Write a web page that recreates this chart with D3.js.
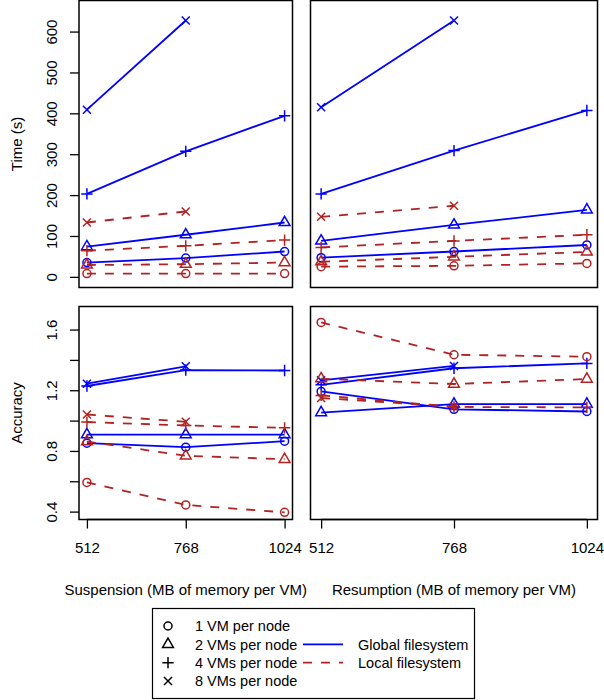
<!DOCTYPE html>
<html>
<head>
<meta charset="utf-8">
<script src="https://cdn.jsdelivr.net/npm/d3@7/dist/d3.min.js"></script>
<style>
  html, body { margin: 0; padding: 0; background: #fff; }
  svg { display: block; font-family: "Liberation Sans", Arial, Helvetica, sans-serif; }
</style>
</head>
<body>
<svg id="chart" width="604" height="700"></svg>
<script>
// Memory sizes on the x axis
const memSizes = [512, 768, 1024];
// VMs per node (one series per count, each with its own point symbol)
const vmCounts = [1, 2, 4, 8];
const vmLabels = ["1 VM per node", "2 VMs per node", "4 VMs per node", "8 VMs per node"];
const vmSymbols = ["circle", "triangle", "plus", "cross"];

// Suspension time (s): rows = 1, 2, 4, 8 VMs per node; columns = 512, 768, 1024 MB
const suspTimeGlobal = [[35, 46, 62], [74, 103, 133], [203, 307, 394], [409, 627, null]];
const suspTimeLocal  = [[8, 8, 8], [29, 31, 35], [64, 76, 90], [133, 160, null]];
// Resumption time (s)
const resTimeGlobal  = [[47, 62, 78], [88, 127, 164], [203, 309, 407], [415, 627, null]];
const resTimeLocal   = [[25, 27, 33], [37, 49, 61], [72, 88, 103], [147, 174, null]];
// Suspension accuracy
const suspAccGlobal  = [[0.851, 0.825, 0.864], [0.908, 0.908, 0.908], [1.228, 1.333, 1.330], [1.243, 1.358, null]];
const suspAccLocal   = [[0.592, 0.444, 0.395], [0.862, 0.768, 0.745], [0.990, 0.968, 0.952], [1.040, 0.992, null]];
// Resumption accuracy
const resAccGlobal   = [[1.192, 1.074, 1.060], [1.053, 1.109, 1.109], [1.236, 1.345, 1.377], [1.265, 1.360, null]];
const resAccLocal    = [[1.647, 1.434, 1.421], [1.276, 1.241, 1.274], [1.166, 1.090, 1.087], [1.149, 1.092, null]];

// Axis ticks and labels
const timeTicks = [0, 100, 200, 300, 400, 500, 600];
const accTicks = [0.4, 0.6, 0.8, 1.0, 1.2, 1.4, 1.6];
const accTickLabels = ["0.4", "", "0.8", "", "1.2", "", "1.6"];
const timeLimits = [0, 650];
const accLimits = [0.4, 1.7];
const xTitles = ["Suspension (MB of memory per VM)", "Resumption (MB of memory per VM)"];
const yTitles = ["Time (s)", "Accuracy"];
const fsLabels = ["Global filesystem", "Local filesystem"];

const BLUE = "#0000ff";
const RED = "#b22222";
const DASH = "9,9";
const LW = 1.8;
const R = 4; // base symbol radius
const FS = 15; // axis text size
const LEG_FS = 14.5; // legend text size

const svg = d3.select("#chart");

// Panel frames
const colX = [[79, 292.5], [310.5, 597.5]];
const rowY = [[0.5, 287.5], [306.5, 519.5]];

// extend a range by 4% on each side
function padded([a, b]) { const d = (b - a) * 0.04; return [a - d, b + d]; }

const xDomain = padded([d3.min(memSizes), d3.max(memSizes)]);
const yDomains = [padded(timeLimits), padded(accLimits)];

const panels = [
  { row: 0, col: 0, global: suspTimeGlobal, local: suspTimeLocal },
  { row: 0, col: 1, global: resTimeGlobal,  local: resTimeLocal },
  { row: 1, col: 0, global: suspAccGlobal,  local: suspAccLocal },
  { row: 1, col: 1, global: resAccGlobal,   local: resAccLocal }
];

function drawSymbol(g, type, x, y, color) {
  const s = g.append("g").attr("transform", `translate(${x},${y})`)
    .attr("fill", "none").attr("stroke", color).attr("stroke-width", 1.5);
  if (type === "circle") {
    s.append("circle").attr("r", R);
  } else if (type === "triangle") {
    const t = 1.5551 * R, h = 1.3468 * R, b = 0.7776 * R;
    s.append("path").attr("d", `M0,${-t}L${h},${b}L${-h},${b}Z`);
  } else if (type === "plus") {
    const p = 1.4142 * R;
    s.append("path").attr("d", `M${-p},0H${p}M0,${-p}V${p}`);
  } else {
    s.append("path").attr("d", `M${-R},${-R}L${R},${R}M${-R},${R}L${R},${-R}`);
  }
}

panels.forEach(p => {
  const [x0, x1] = colX[p.col];
  const [y0, y1] = rowY[p.row];
  const x = d3.scaleLinear().domain(xDomain).range([x0, x1]);
  const y = d3.scaleLinear().domain(yDomains[p.row]).range([y1, y0]);
  const g = svg.append("g");

  const line = d3.line()
    .defined(d => d.v != null)
    .x(d => x(d.m)).y(d => y(d.v));

  [[p.global, BLUE, null], [p.local, RED, DASH]].forEach(([series, color, dash]) => {
    series.forEach((vals, i) => {
      const pts = vals.map((v, j) => ({ m: memSizes[j], v }));
      g.append("path").datum(pts)
        .attr("d", line)
        .attr("fill", "none")
        .attr("stroke", color)
        .attr("stroke-width", LW)
        .attr("stroke-dasharray", dash);
      pts.filter(d => d.v != null).forEach(d => drawSymbol(g, vmSymbols[i], x(d.m), y(d.v), color));
    });
  });

  // frame
  svg.append("rect").attr("x", x0).attr("y", y0)
    .attr("width", x1 - x0).attr("height", y1 - y0)
    .attr("fill", "none").attr("stroke", "#000").attr("stroke-width", 1.5);

  // y axis on the left column
  if (p.col === 0) {
    const ticks = p.row === 0 ? timeTicks : accTicks;
    const labels = p.row === 0 ? timeTicks.map(String) : accTickLabels;
    const ax = svg.append("g").attr("transform", `translate(${x0},0)`)
      .call(d3.axisLeft(y).tickValues(ticks).tickSize(9)
        .tickFormat((d, i) => labels[i]));
    ax.select(".domain").remove();
    ax.selectAll(".tick line").attr("stroke", "#000").attr("stroke-width", 1.3);
    ax.selectAll(".tick text")
      .attr("transform", "rotate(-90)")
      .attr("x", 0).attr("y", -27).attr("dy", "0.36em")
      .attr("text-anchor", "middle")
      .attr("font-size", FS).attr("fill", "#000")
      .attr("font-family", "Liberation Sans, Arial, sans-serif");
    svg.append("text")
      .attr("transform", `translate(17,${(y0 + y1) / 2}) rotate(-90)`)
      .attr("text-anchor", "middle").attr("dy", "0.36em")
      .attr("font-size", FS).text(yTitles[p.row]);
  }

  // x axis on the bottom row
  if (p.row === 1) {
    const ax = svg.append("g").attr("transform", `translate(0,${y1})`)
      .call(d3.axisBottom(x).tickValues(memSizes).tickSize(9).tickFormat(d3.format("d")));
    ax.select(".domain").remove();
    ax.append("line").attr("x1", x(memSizes[0])).attr("x2", x(memSizes[memSizes.length - 1]))
      .attr("stroke", "#000").attr("stroke-width", 1.3);
    ax.selectAll(".tick line").attr("stroke", "#000").attr("stroke-width", 1.3);
    ax.selectAll(".tick text")
      .attr("y", 28).attr("dy", "0.36em")
      .attr("font-size", FS).attr("fill", "#000")
      .attr("font-family", "Liberation Sans, Arial, sans-serif");
    svg.append("text")
      .attr("x", (x(memSizes[0]) + x(memSizes[2])) / 2).attr("y", 590)
      .attr("text-anchor", "middle").attr("dy", "0.36em")
      .attr("font-size", FS).text(xTitles[p.col]);
  }
});

// Legend
const lg = svg.append("g");
lg.append("rect").attr("x", 152.5).attr("y", 608.5).attr("width", 322).attr("height", 90)
  .attr("fill", "#fff").attr("stroke", "#000").attr("stroke-width", 1.2);
const rowYs = [626, 644.3, 662.7, 681];
vmLabels.forEach((lab, i) => {
  drawSymbol(lg, vmSymbols[i], 168, rowYs[i], "#000");
  lg.append("text").attr("x", 195).attr("y", rowYs[i]).attr("dy", "0.36em")
    .attr("font-size", LEG_FS).text(lab);
});
[[BLUE, null], [RED, DASH]].forEach(([color, dash], i) => {
  const yy = rowYs[i + 1];
  lg.append("line").attr("x1", 303).attr("x2", 343).attr("y1", yy).attr("y2", yy)
    .attr("stroke", color).attr("stroke-width", LW).attr("stroke-dasharray", dash);
  lg.append("text").attr("x", 358).attr("y", yy).attr("dy", "0.36em")
    .attr("font-size", LEG_FS).text(fsLabels[i]);
});
</script>
</body>
</html>
